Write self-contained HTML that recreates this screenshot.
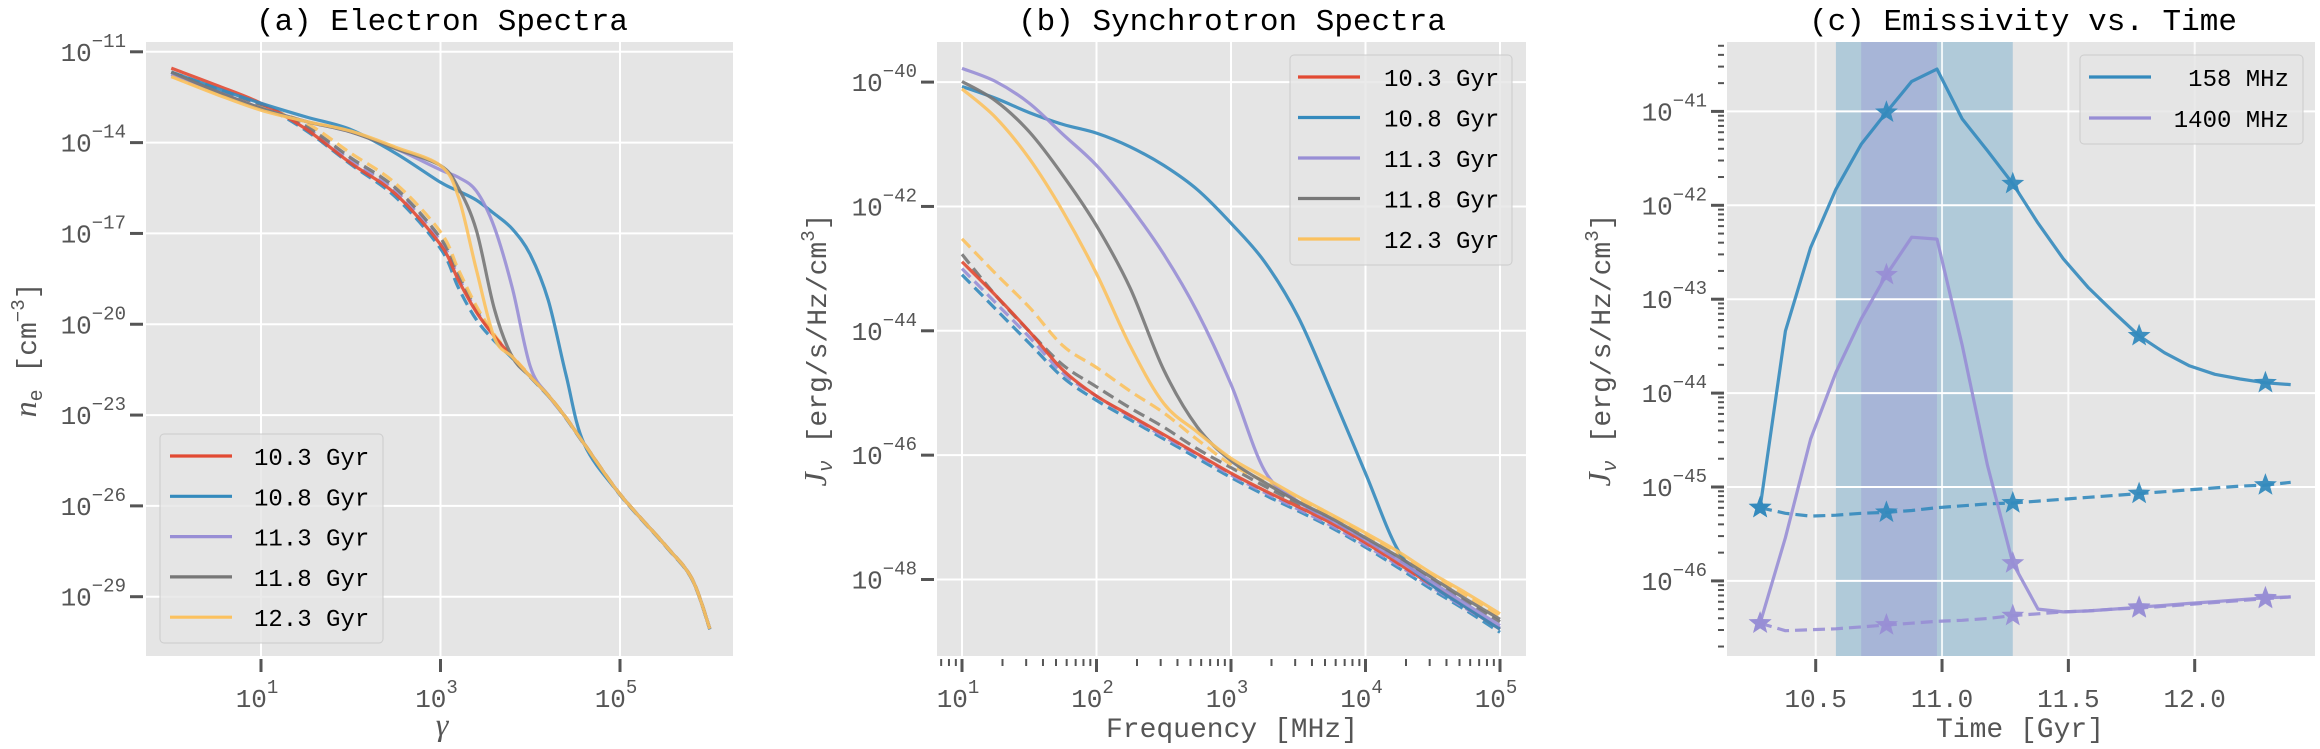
<!DOCTYPE html>
<html><head><meta charset="utf-8"><style>
body{margin:0;background:#fff}
svg{display:block;font-family:"Liberation Mono","DejaVu Sans Mono",monospace}
.tl{fill:#555;font-size:26px}
.ttl{fill:#000;font-size:31px}
.lab{fill:#555;font-size:28px}
.leg{fill:#000;font-size:24px}
</style></head><body>
<svg id="fig" width="2320" height="749" viewBox="0 0 2320 749" xmlns="http://www.w3.org/2000/svg">
<defs>
<clipPath id="ca"><rect x="146" y="42" width="587" height="614"/></clipPath>
<clipPath id="cb"><rect x="937" y="42" width="589" height="614"/></clipPath>
<clipPath id="cc"><rect x="1727" y="42" width="588" height="614"/></clipPath>
</defs>
</svg>
<script>
// ---------- Panel (a) data: log10(gamma) grid and log10(n_e) ----------
const aLogGamma = [0,0.5,1,1.5,2,2.5,3,3.2,3.4,3.6,3.8,4,4.2,4.4,4.6,5,5.5,5.8,6];
const aRed    = [-11.54,-12.1,-12.7,-13.55,-14.68,-15.7,-17.37,-18.55,-19.6,-20.4,-21.08,-21.73,-22.35,-23.1,-23.95,-25.62,-27.29,-28.4,-30.06];
const aBlue   = [-11.67,-12.2,-12.7,-13.15,-13.57,-14.35,-15.31,-15.6,-15.9,-16.35,-16.85,-17.7,-19.2,-21.7,-23.95,-25.62,-27.29,-28.4,-30.06];
const aPurple = [-11.75,-12.3,-12.86,-13.3,-13.65,-14.2,-14.9,-15.15,-15.6,-16.8,-18.8,-21.4,-22.35,-23.1,-23.95,-25.62,-27.29,-28.4,-30.06];
const aGray   = [-11.67,-12.3,-12.86,-13.3,-13.65,-14.2,-14.76,-15.5,-16.9,-19.5,-21.08,-21.73,-22.35,-23.1,-23.95,-25.62,-27.29,-28.4,-30.06];
const aYellow = [-11.82,-12.4,-12.93,-13.3,-13.62,-14.15,-14.76,-15.8,-18.2,-20.45,-21.08,-21.73,-22.35,-23.1,-23.95,-25.62,-27.29,-28.4,-30.06];
const aBlueD  = [-11.67,-12.2,-12.75,-13.6,-14.72,-15.8,-17.5,-18.8,-19.85,-20.55,-21.12,-21.75,-22.37,-23.12,-23.97,-25.64,-27.31,-28.42,-30.08];
const aPurpleD= [-11.75,-12.25,-12.75,-13.5,-14.58,-15.6,-17.25,-18.45,-19.55,-20.4,-21.08,-21.73,-22.35,-23.1,-23.95,-25.62,-27.29,-28.4,-30.06];
const aGrayD  = [-11.67,-12.25,-12.75,-13.45,-14.5,-15.5,-17.15,-18.35,-19.5,-20.38,-21.08,-21.73,-22.35,-23.1,-23.95,-25.62,-27.29,-28.4,-30.06];
const aYellowD= [-11.82,-12.35,-12.85,-13.35,-14.35,-15.35,-16.95,-18.2,-19.4,-20.35,-21.05,-21.7,-22.33,-23.08,-23.93,-25.6,-27.27,-28.38,-30.04];
const aYTicks = [-11,-14,-17,-20,-23,-26,-29];
const aXTicks = [1,3,5];

// ---------- Panel (b) data: log10(freq MHz) and log10(J) ----------
const bLogNu = [1,1.25,1.5,1.75,2,2.25,2.5,2.75,3,3.25,3.5,3.75,4,4.25,4.5,4.75,5];
const bRed    = [-42.89,-43.43,-44.01,-44.63,-45.05,-45.36,-45.67,-45.98,-46.29,-46.57,-46.83,-47.1,-47.41,-47.75,-48.1,-48.45,-48.8];
const bBlue   = [-40.07,-40.26,-40.49,-40.68,-40.82,-41.04,-41.34,-41.73,-42.27,-42.89,-43.78,-45.01,-46.29,-47.56,-48.1,-48.45,-48.8];
const bPurple = [-39.78,-39.99,-40.34,-40.84,-41.34,-42.0,-42.77,-43.7,-44.86,-46.25,-46.75,-47.05,-47.36,-47.7,-48.05,-48.4,-48.74];
const bGray   = [-39.99,-40.3,-40.8,-41.5,-42.31,-43.31,-44.63,-45.55,-46.09,-46.44,-46.75,-47.02,-47.33,-47.64,-47.98,-48.32,-48.64];
const bYellow = [-40.11,-40.57,-41.23,-42.08,-43.08,-44.24,-45.17,-45.63,-46.05,-46.36,-46.67,-46.96,-47.25,-47.56,-47.91,-48.22,-48.55];
const bYellowD= [-42.52,-43.08,-43.62,-44.24,-44.59,-44.97,-45.32,-45.75,-46.15,-46.42,-46.7,-46.98,-47.28,-47.6,-47.94,-48.26,-48.6];
const bGrayD  = [-42.77,-43.43,-44.01,-44.55,-44.9,-45.24,-45.55,-45.9,-46.2,-46.5,-46.78,-47.05,-47.36,-47.68,-48.02,-48.36,-48.68];
const bPurpleD= [-43.0,-43.55,-44.1,-44.68,-45.05,-45.38,-45.7,-46.0,-46.32,-46.6,-46.87,-47.14,-47.45,-47.78,-48.13,-48.47,-48.78];
const bBlueD  = [-43.1,-43.65,-44.2,-44.75,-45.12,-45.43,-45.74,-46.05,-46.36,-46.64,-46.9,-47.17,-47.48,-47.82,-48.17,-48.5,-48.85];
const bYTicks = [-40,-42,-44,-46,-48];
const bXTicks = [1,2,3,4,5];

// ---------- Panel (c) data: time (Gyr) and log10(J) ----------
const cTime = [10.28,10.38,10.48,10.58,10.68,10.78,10.88,10.98,11.08,11.18,11.28,11.38,11.48,11.58,11.68,11.78,11.88,11.98,12.08,12.18,12.28,12.38];
const c158   = [-45.22,-43.34,-42.45,-41.83,-41.35,-41.01,-40.68,-40.55,-41.08,-41.42,-41.77,-42.19,-42.57,-42.88,-43.14,-43.39,-43.57,-43.71,-43.8,-43.85,-43.89,-43.91];
const c158D  = [-45.22,-45.28,-45.31,-45.3,-45.28,-45.27,-45.25,-45.22,-45.2,-45.18,-45.17,-45.15,-45.13,-45.11,-45.09,-45.07,-45.05,-45.03,-45.01,-44.99,-44.98,-44.95];
const c1400  = [-46.45,-45.54,-44.49,-43.78,-43.21,-42.74,-42.34,-42.36,-43.49,-44.77,-45.81,-46.3,-46.33,-46.32,-46.3,-46.28,-46.26,-46.24,-46.22,-46.2,-46.18,-46.17];
const c1400D = [-46.45,-46.53,-46.52,-46.51,-46.49,-46.47,-46.45,-46.43,-46.42,-46.4,-46.37,-46.35,-46.33,-46.32,-46.3,-46.29,-46.27,-46.25,-46.23,-46.21,-46.19,-46.17];
const cStarIdx = [0,5,10,15,20];
const cYTicks = [-41,-42,-43,-44,-45,-46];
const cXTicks = [10.5,11.0,11.5,12.0];
const cBandOuter = [10.58,11.28];
const cBandInner = [10.68,10.98];

const C = {red:'#E24A33',blue:'#348ABD',purple:'#988ED5',gray:'#777777',yellow:'#FBC15E'};
const svg = document.getElementById('fig');
const NS = 'http://www.w3.org/2000/svg';
function mk(tag, attrs, parent){const e=document.createElementNS(NS,tag);for(const k in attrs)e.setAttribute(k,attrs[k]);(parent||svg).appendChild(e);return e;}
function lin(d0,d1,r0,r1){return v=>r0+(v-d0)*(r1-r0)/(d1-d0);}

const ax = {x:lin(1,5,261,620), y:lin(-11,-29,51.8,596.7), box:[146,42,733,656], clip:'ca'};
const bx = {x:lin(1,5,962,1500), y:lin(-40,-48,82.1,579.5), box:[937,42,1526,656], clip:'cb'};
const cx = {x:lin(10.5,12.0,1815.7,2194.7), y:lin(-41,-46,111.4,580.9), box:[1727,42,2315,656], clip:'cc'};

function frame(A, name){
  const [x0,y0,x1,y1]=A.box;
  const r=mk('rect',{x:x0,y:y0,width:x1-x0,height:y1-y0,fill:'#E5E5E5'});
  
  
}
function gridY(A, ticks, name){
  const [x0,y0,x1,y1]=A.box;
  const g=mk('g',{});
  
  
  ticks.forEach(t=>{
    const y=A.y(t);
    mk('line',{x1:x0,x2:x1,y1:y,y2:y,stroke:'#fff','stroke-width':2},g);
    mk('line',{x1:x0-16,x2:x0-3,y1:y,y2:y,stroke:'#555','stroke-width':3},g);
    const tx=mk('text',{x:x0-20,y:y+9,'text-anchor':'end',class:'tl'},g);
    
    
    tx.textContent='10';
    const s=mk('tspan',{dy:-14,'font-size':19},tx); s.textContent='\u2212'+(-t);
  });
}
function gridXLog(A, ticks, name, minor){
  const [x0,y0,x1,y1]=A.box;
  const g=mk('g',{});
  
  
  ticks.forEach(t=>{
    const x=A.x(t);
    mk('line',{x1:x,x2:x,y1:y0,y2:y1,stroke:'#fff','stroke-width':2},g);
    mk('line',{x1:x,x2:x,y1:y1+3,y2:y1+16,stroke:'#555','stroke-width':3},g);
    const tx=mk('text',{x:x-4,y:y1+51,'text-anchor':'middle',class:'tl'},g);
    
    
    tx.textContent='10';
    const s=mk('tspan',{dy:-14,'font-size':19},tx); s.textContent=String(t);
    if(minor){
      for(let k=2;k<=9;k++){const lv=t+Math.log10(k); if(lv<=ticks[ticks.length-1]){const mx=A.x(lv); mk('line',{x1:mx,x2:mx,y1:y1+3,y2:y1+10,stroke:'#555','stroke-width':2},g);}}
      if(t===ticks[0]){for(let k=7;k<=9;k++){const mx=A.x(t-1+Math.log10(k)); if(mx>x0) mk('line',{x1:mx,x2:mx,y1:y1+3,y2:y1+10,stroke:'#555','stroke-width':2},g);}}
    }
  });
}
function pathD(P, smooth){
  if(!smooth) return P.map((p,i)=>(i?'L':'M')+p[0].toFixed(1)+','+p[1].toFixed(1)).join(' ');
  let d='M'+P[0][0].toFixed(1)+','+P[0][1].toFixed(1);
  for(let i=0;i<P.length-1;i++){
    const p0=P[Math.max(0,i-1)],p1=P[i],p2=P[i+1],p3=P[Math.min(P.length-1,i+2)];
    const t=1/6;
    const c1=[p1[0]+(p2[0]-p0[0])*t,p1[1]+(p2[1]-p0[1])*t];
    const c2=[p2[0]-(p3[0]-p1[0])*t,p2[1]-(p3[1]-p1[1])*t];
    d+=' C'+c1[0].toFixed(1)+','+c1[1].toFixed(1)+' '+c2[0].toFixed(1)+','+c2[1].toFixed(1)+' '+p2[0].toFixed(1)+','+p2[1].toFixed(1);
  }
  return d;
}
function line(A, xs, ys, color, name, dashed, smooth){
  const P=xs.map((v,i)=>[A.x(v),A.y(ys[i])]);
  const p=mk('path',{d:pathD(P,smooth),fill:'none',stroke:color,'stroke-width':3.2,'stroke-opacity':0.9,'clip-path':'url(#'+A.clip+')','stroke-linejoin':'round'});
  if(dashed){p.setAttribute('stroke-dasharray','12,6');}
  
  
  return p;
}
function legend(x,y,w,h,entries,lineX,textX,dy0,step,anchor,name){
  const g=mk('g',{});
  
  
  mk('rect',{x:x,y:y,width:w,height:h,rx:4,fill:'#E5E5E5','fill-opacity':0.8,stroke:'#ccc','stroke-width':1},g);
  entries.forEach((e,i)=>{
    const yy=y+dy0+i*step;
    const it=mk('g',{},g);
    
    
    mk('line',{x1:lineX,x2:lineX+62,y1:yy,y2:yy,stroke:e[1],'stroke-width':3.2},it);
    const t=mk('text',{x:textX,y:yy+9,class:'leg','text-anchor':anchor},it); t.textContent=e[0];
  });
}
function text(x,y,str,cls,name,rot){
  const t=mk('text',{x:x,y:y,class:cls,'text-anchor':'middle'});
  if(rot) t.setAttribute('transform','rotate(-90 '+x+' '+y+')');
  
  
  t.innerHTML=str; return t;
}

// ===== Panel a =====
frame(ax,'electron');
gridY(ax,aYTicks,'electron');
gridXLog(ax,aXTicks,'electron',false);
line(ax,aLogGamma,aBlueD,C.blue,'electron-10.8-dashed',true,true);
line(ax,aLogGamma,aPurpleD,C.purple,'electron-11.3-dashed',true,true);
line(ax,aLogGamma,aGrayD,C.gray,'electron-11.8-dashed',true,true);
line(ax,aLogGamma,aYellowD,C.yellow,'electron-12.3-dashed',true,true);
line(ax,aLogGamma,aRed,C.red,'electron-10.3',false,true);
line(ax,aLogGamma,aBlue,C.blue,'electron-10.8',false,true);
line(ax,aLogGamma,aPurple,C.purple,'electron-11.3',false,true);
line(ax,aLogGamma,aGray,C.gray,'electron-11.8',false,true);
line(ax,aLogGamma,aYellow,C.yellow,'electron-12.3',false,true);
legend(160,434,223,209,[['10.3 Gyr',C.red],['10.8 Gyr',C.blue],['11.3 Gyr',C.purple],['11.8 Gyr',C.gray],['12.3 Gyr',C.yellow]],170,254,22,40.3,'start','electron-legend');
text(442,30,'(a) Electron Spectra','ttl','electron-title');
text(442,735,'<tspan font-style="italic" font-family="Liberation Serif" font-size="32">γ</tspan>','lab','electron-x-title');
text(36,350,'<tspan font-style="italic" font-family="Liberation Serif" font-size="32">n</tspan><tspan font-size="20" dy="6">e</tspan><tspan dy="-6"> [cm</tspan><tspan font-size="19" dy="-12">−3</tspan><tspan dy="12">]</tspan>','lab','electron-y-title',true);

// ===== Panel b =====
frame(bx,'synchrotron');
gridY(bx,bYTicks,'synchrotron');
gridXLog(bx,bXTicks,'synchrotron',true);
line(bx,bLogNu,bBlueD,C.blue,'sync-10.8-dashed',true,true);
line(bx,bLogNu,bPurpleD,C.purple,'sync-11.3-dashed',true,true);
line(bx,bLogNu,bGrayD,C.gray,'sync-11.8-dashed',true,true);
line(bx,bLogNu,bYellowD,C.yellow,'sync-12.3-dashed',true,true);
line(bx,bLogNu,bRed,C.red,'sync-10.3',false,true);
line(bx,bLogNu,bBlue,C.blue,'sync-10.8',false,true);
line(bx,bLogNu,bPurple,C.purple,'sync-11.3',false,true);
line(bx,bLogNu,bGray,C.gray,'sync-11.8',false,true);
line(bx,bLogNu,bYellow,C.yellow,'sync-12.3',false,true);
legend(1290,55,222,210,[['10.3 Gyr',C.red],['10.8 Gyr',C.blue],['11.3 Gyr',C.purple],['11.8 Gyr',C.gray],['12.3 Gyr',C.yellow]],1298,1384,22,40.5,'start','synchrotron-legend');
text(1232,30,'(b) Synchrotron Spectra','ttl','synchrotron-title');
text(1232,737,'Frequency [MHz]','lab','synchrotron-x-title');
text(826,350,'<tspan font-style="italic" font-family="Liberation Serif" font-size="32">J</tspan><tspan font-size="20" dy="6" font-style="italic">ν</tspan><tspan dy="-6"> [erg/s/Hz/cm</tspan><tspan font-size="19" dy="-12">3</tspan><tspan dy="12">]</tspan>','lab','synchrotron-y-title',true);

// ===== Panel c =====
frame(cx,'emissivity');
(function(){
  const [x0,y0,x1,y1]=cx.box;
  const b1=mk('rect',{x:cx.x(cBandOuter[0]),y:y0,width:cx.x(cBandOuter[1])-cx.x(cBandOuter[0]),height:y1-y0,fill:'#348ABD','fill-opacity':0.3});
  
  
  const b2=mk('rect',{x:cx.x(cBandInner[0]),y:y0,width:cx.x(cBandInner[1])-cx.x(cBandInner[0]),height:y1-y0,fill:'#988ED5','fill-opacity':0.35});
  
  
  const g=mk('g',{});
  
  
  cXTicks.forEach(t=>{const x=cx.x(t);
    mk('line',{x1:x,x2:x,y1:y0,y2:y1,stroke:'#fff','stroke-width':2,'stroke-opacity':0.8},g);
    mk('line',{x1:x,x2:x,y1:y1+3,y2:y1+16,stroke:'#555','stroke-width':3},g);
    const tx=mk('text',{x:x,y:y1+51,'text-anchor':'middle',class:'tl'},g); tx.textContent=t.toFixed(1);
    
    
  });
  gridY(cx,cYTicks,'emissivity');
  const gm=mk('g',{});
  for(let dcd=-47;dcd<=-41;dcd++){for(let k=2;k<=9;k++){const lv=dcd+Math.log10(k);const y=cx.y(lv); if(y>y0&&y<y1) mk('line',{x1:x0-9,x2:x0-3,y1:y,y2:y,stroke:'#555','stroke-width':2},gm);}}
})();
line(cx,cTime,c158D,C.blue,'emissivity-158-dashed',true,false);
line(cx,cTime,c1400D,C.purple,'emissivity-1400-dashed',true,false);
line(cx,cTime,c158,C.blue,'emissivity-158',false,false);
line(cx,cTime,c1400,C.purple,'emissivity-1400',false,false);
function star(x,y,r,color){
  let d='';for(let i=0;i<10;i++){const a=-Math.PI/2+i*Math.PI/5;const rr=i%2?r*0.42:r;d+=(i?'L':'M')+(x+rr*Math.cos(a)).toFixed(1)+','+(y+rr*Math.sin(a)).toFixed(1);}
  const p=mk('path',{d:d+'Z',fill:color,'fill-opacity':0.95});
  
  
}
[[c158,C.blue],[c158D,C.blue],[c1400,C.purple],[c1400D,C.purple]].forEach(s=>{
  cStarIdx.forEach(i=>star(cx.x(cTime[i]),cx.y(s[0][i]),12,s[1]));
});
legend(2080,55,223,89,[['158 MHz',C.blue],['1400 MHz',C.purple]],2089,2289,22,41,'end','emissivity-legend');
text(2023,30,'(c) Emissivity vs. Time','ttl','emissivity-title');
text(2020,737,'Time [Gyr]','lab','emissivity-x-title');
text(1610,350,'<tspan font-style="italic" font-family="Liberation Serif" font-size="32">J</tspan><tspan font-size="20" dy="6" font-style="italic">ν</tspan><tspan dy="-6"> [erg/s/Hz/cm</tspan><tspan font-size="19" dy="-12">3</tspan><tspan dy="12">]</tspan>','lab','emissivity-y-title',true);
</script>
</body></html>
